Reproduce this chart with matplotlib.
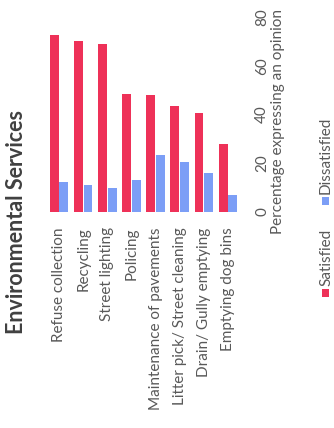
import numpy as np
import matplotlib
matplotlib.use("Agg")
import matplotlib.pyplot as plt
from matplotlib.patches import Rectangle

plt.rcParams['font.family'] = ['Lato', 'DejaVu Sans']

categories = ['Refuse collection', 'Recycling', 'Street lighting', 'Policing',
              'Maintenance of pavements', 'Litter pick/ Street cleaning',
              'Drain/ Gully emptying', 'Emptying dog bins']
satisfied = [72.5, 70, 69, 48.5, 48, 43.5, 40.5, 28]
dissatisfied = [12.5, 11, 10, 13, 23.5, 20.5, 16, 7]
value_ticks = [0, 20, 40, 60, 80]

red = '#EE3158'
blue = '#7C9EF6'
grey = '#595959'
fs = 11

W, H = 334, 428
fig = plt.figure(figsize=(W / 100, H / 100), dpi=100)
fig.patch.set_facecolor('white')

# chart is laid out sideways: bars go up, labels read bottom-to-top
ax = fig.add_axes([47 / W, 1 - 212 / H, 193 / W, 195 / H])
x = np.arange(len(categories))
w = 0.37
ax.bar(x - 0.2, satisfied, width=w, color=red)
ax.bar(x + 0.2, dissatisfied, width=w, color=blue)

ax.set_xlim(-0.5, len(categories) - 0.5)
ax.set_ylim(0, 80)
for s in ax.spines.values():
    s.set_visible(False)

ax.set_xticks(x, categories, rotation=90, fontsize=fs, color=grey)
ax.tick_params(axis='x', length=0, pad=11)

ax.yaxis.tick_right()
ax.set_yticks(value_ticks)
ax.set_yticklabels([str(v) for v in value_ticks], rotation=90, fontsize=fs,
                   color=grey, va='center')
ax.tick_params(axis='y', length=0, pad=11)

fig.text(278 / W, 1 - 121 / H, 'Percentage expressing an opinion', rotation=90,
         ha='center', va='center', fontsize=fs, color=grey)

fig.text(17 / W, 1 - 222 / H, 'Environmental Services', rotation=90,
         ha='center', va='center', fontsize=15.5, fontweight='bold', color='#404040')

# legend drawn by hand so it can sit rotated
for label, color, y0 in [('Satisfied', red, 297), ('Dissatisfied', blue, 205)]:
    fig.add_artist(Rectangle((322 / W, 1 - y0 / H), 7 / W, 8 / H,
                             transform=fig.transFigure, color=color, lw=0))
    fig.text(326 / W, 1 - (y0 - 11) / H, label, rotation=90, rotation_mode='anchor',
             ha='left', va='center', fontsize=fs, color=grey)

fig.savefig('out.png', dpi=100, facecolor='white')
